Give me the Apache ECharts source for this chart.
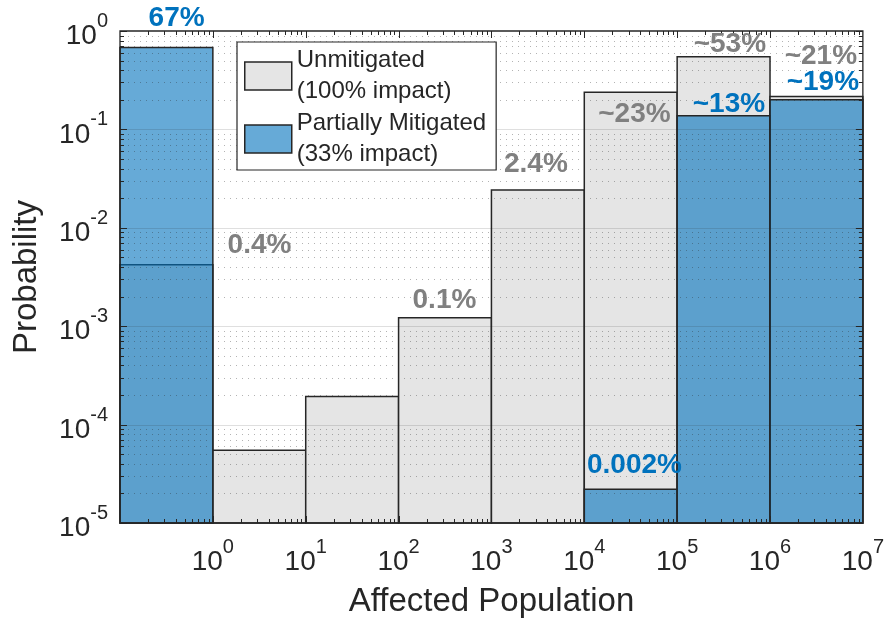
<!DOCTYPE html>
<html>
<head>
<meta charset="utf-8">
<script src="https://cdn.jsdelivr.net/npm/echarts@6/dist/echarts.min.js"></script>
<style>
  html, body { margin: 0; padding: 0; background: #fff; }
  #chart { width: 887px; height: 623px; }
</style>
</head>
<body>
<div id="chart"></div>
<script>
// bins are decades of affected population, edges given as log10
const binStart = [-1, 0, 1, 2, 3, 4, 5, 6];
const binEnd = [0, 1, 2, 3, 4, 5, 6, 7];
const unmitigated = [0.0042, 5.5e-5, 1.93e-4, 1.22e-3, 0.0242, 0.238, 0.546, 0.216];
const mitigated = [0.678, null, null, null, null, 2.2e-5, 0.138, 0.2];

// annotation texts, placed in data coordinates
const noteText = ['67%', '0.4%', '0.1%', '2.4%', '~23%', '~53%', '~21%', '~13%', '~19%', '0.002%'];
const noteX = [-0.39, 0.502, 2.494, 3.479, 4.54, 5.568, 6.548, 5.558, 6.569, 4.54];
const noteY = [1.34, 0.00667, 1.83e-3, 0.044, 0.141, 0.739, 0.558, 0.182, 0.301, 3.82e-5];
const noteBlue = [true, false, false, false, false, false, false, true, true, true];

const xTicks = [0, 1, 2, 3, 4, 5, 6, 7];
const yDecades = [-5, -4, -3, -2, -1, 0];

const Y_MIN = 1e-5, Y_MAX = 1, X_MIN = -1, X_MAX = 7;
const FONT = '"Liberation Sans", Arial, Helvetica, sans-serif';
const INK = '#262626';
const GRAY_FILL = '#e5e5e5';
const BLUE_FILL = 'rgba(0,114,189,0.6)';
const BLUE_TEXT = '#0072BD';
const GRAY_TEXT = '#808080';
const NAME_U = 'Unmitigated\n(100% impact)';
const NAME_M = 'Partially Mitigated\n(33% impact)';

function barData(values) {
  const out = [];
  values.forEach((v, i) => {
    if (v != null) out.push([binStart[i], binEnd[i], v]);
  });
  return out;
}

function barRenderer(fill) {
  return function (params, api) {
    const tl = api.coord([api.value(0), api.value(2)]);
    const br = api.coord([api.value(1), Y_MIN]);
    return {
      type: 'rect',
      shape: { x: tl[0], y: tl[1], width: br[0] - tl[0], height: br[1] - tl[1] },
      style: { fill: fill, stroke: INK, lineWidth: 1.5 }
    };
  };
}

function line(a, b, style) {
  return { type: 'line', shape: { x1: a[0], y1: a[1], x2: b[0], y2: b[1] }, style: style };
}

const crisp = (v) => Math.round(v) + 0.5;

// grid lines, ticks and box drawn on top of the bars, like matlab's layer top
function renderAxesDecor(params, api) {
  const kids = [];
  const major = { stroke: 'rgba(38,38,38,0.15)', lineWidth: 1 };
  const minor = { stroke: 'rgba(38,38,38,0.35)', lineWidth: 1, lineDash: [1, 5] };
  const tick = { stroke: INK, lineWidth: 1 };
  const left = api.coord([X_MIN, Y_MIN])[0];
  const right = api.coord([X_MAX, Y_MIN])[0];
  const bottom = api.coord([X_MIN, Y_MIN])[1];
  const top = api.coord([X_MIN, Y_MAX])[1];

  yDecades.forEach((e) => {
    const y = crisp(api.coord([X_MIN, Math.pow(10, e)])[1]);
    if (e > yDecades[0] && e < 0) kids.push(line([left, y], [right, y], major));
    kids.push(line([left, y], [left + 7, y], tick));
    kids.push(line([right, y], [right - 7, y], tick));
    if (e === 0) return;
    for (let k = 2; k <= 9; k++) {
      const ym = crisp(api.coord([X_MIN, k * Math.pow(10, e)])[1]);
      kids.push(line([left + 2, ym], [right, ym], minor));
      kids.push(line([left, ym], [left + 4, ym], tick));
      kids.push(line([right, ym], [right - 4, ym], tick));
    }
  });

  for (let n = X_MIN; n < X_MAX; n++) {
    const x = crisp(api.coord([n, Y_MIN])[0]);
    if (n > X_MIN) {
      kids.push(line([x, bottom], [x, bottom - 7], tick));
      kids.push(line([x, top], [x, top + 7], tick));
    }
    for (let k = 2; k <= 9; k++) {
      const xm = crisp(api.coord([n + Math.log10(k), Y_MIN])[0]);
      kids.push(line([xm, bottom], [xm, bottom - 4], tick));
      kids.push(line([xm, top], [xm, top + 4], tick));
    }
  }

  kids.push({
    type: 'rect',
    shape: { x: left, y: top, width: right - left, height: bottom - top },
    style: { fill: 'none', stroke: INK, lineWidth: 1.3 }
  });
  return { type: 'group', children: kids };
}

const supRich = {
  b: { fontSize: 28, fontFamily: FONT, color: INK, padding: [11, 0, 0, 0], verticalAlign: 'bottom' },
  s: { fontSize: 20, fontFamily: FONT, color: INK, verticalAlign: 'top' }
};

const chart = echarts.init(document.getElementById('chart'), null, { renderer: 'canvas' });

chart.setOption({
  animation: false,
  backgroundColor: '#fff',
  textStyle: { fontFamily: FONT },
  grid: { left: 120, top: 31, right: 24, bottom: 98 },
  xAxis: {
    type: 'value',
    min: X_MIN,
    max: X_MAX,
    interval: 1,
    name: 'Affected Population',
    nameLocation: 'middle',
    nameGap: 62,
    nameTextStyle: { fontSize: 33, color: INK, fontFamily: FONT },
    axisLine: { show: false },
    axisTick: { show: false },
    splitLine: { show: false },
    axisLabel: {
      margin: 14,
      formatter: (v) => (xTicks.indexOf(v) < 0 ? '' : '{b|10}{s|' + v + '}'),
      rich: supRich
    }
  },
  yAxis: {
    type: 'log',
    logBase: 10,
    min: Y_MIN,
    max: Y_MAX,
    splitNumber: 5,
    name: 'Probability',
    nameLocation: 'middle',
    nameGap: 77,
    nameTextStyle: { fontSize: 33, color: INK, fontFamily: FONT },
    axisLine: { show: false },
    axisTick: { show: false },
    splitLine: { show: false },
    axisLabel: {
      margin: 12,
      formatter: (v) => '{b|10}{s|' + Math.round(Math.log10(v)) + '}',
      rich: supRich
    }
  },
  legend: {
    orient: 'vertical',
    left: 237,
    top: 42,
    z: 8,
    selectedMode: false,
    backgroundColor: '#fff',
    borderColor: INK,
    borderWidth: 1.2,
    borderRadius: 0,
    padding: [3, 10, 0, 7],
    itemWidth: 47,
    itemHeight: 28,
    itemGap: 1,
    textStyle: { fontSize: 24, lineHeight: 31, color: INK, fontFamily: FONT },
    data: [
      { name: NAME_U, icon: 'rect', itemStyle: { color: GRAY_FILL, borderColor: INK, borderWidth: 1.5 } },
      { name: NAME_M, icon: 'rect', itemStyle: { color: BLUE_FILL, borderColor: INK, borderWidth: 1.5 } }
    ]
  },
  series: [
    {
      name: NAME_U,
      type: 'custom',
      z: 2,
      encode: { x: [0, 1], y: 2 },
      itemStyle: { color: GRAY_FILL },
      data: barData(unmitigated),
      renderItem: barRenderer(GRAY_FILL)
    },
    {
      name: NAME_M,
      type: 'custom',
      z: 3,
      encode: { x: [0, 1], y: 2 },
      itemStyle: { color: BLUE_FILL },
      data: barData(mitigated),
      renderItem: barRenderer(BLUE_FILL)
    },
    {
      type: 'custom',
      z: 4,
      silent: true,
      data: [[X_MIN, Y_MIN]],
      renderItem: renderAxesDecor
    },
    {
      type: 'scatter',
      z: 6,
      silent: true,
      clip: false,
      symbolSize: 0,
      itemStyle: { opacity: 1 },
      data: noteText.map((t, i) => ({
        value: [noteX[i], noteY[i]],
        label: { color: noteBlue[i] ? BLUE_TEXT : GRAY_TEXT }
      })),
      label: {
        show: true,
        position: 'inside',
        fontSize: 28,
        fontWeight: 'bold',
        fontFamily: FONT,
        opacity: 1,
        textBorderWidth: 0,
        textBorderColor: 'transparent',
        formatter: (p) => noteText[p.dataIndex]
      }
    }
  ]
});
</script>
</body>
</html>
